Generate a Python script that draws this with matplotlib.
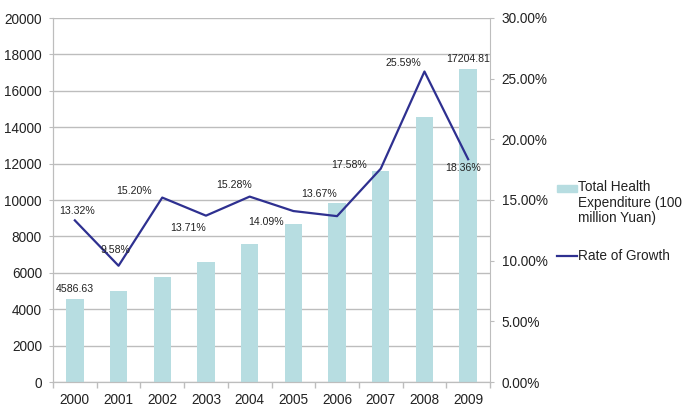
import matplotlib
matplotlib.use("Agg")
import matplotlib.pyplot as plt
from matplotlib.patches import Rectangle
from matplotlib.lines import Line2D
from matplotlib.ticker import FuncFormatter, FixedLocator

plt.rcParams['font.family'] = ['Liberation Sans', 'DejaVu Sans']

years = ["2000", "2001", "2002", "2003", "2004", "2005", "2006", "2007", "2008", "2009"]
expenditure = [4586.63, 5025.93, 5790.03, 6584.10, 7590.29, 8659.91, 9843.34, 11573.97, 14535.40, 17204.81]
growth = [13.32, 9.58, 15.20, 13.71, 15.28, 14.09, 13.67, 17.58, 25.59, 18.36]
bar_label_idx = [0, 9]
# label offsets (points) for growth labels
growth_offsets = [(1.5, 7), (-2, 11), (-20, 4.5), (-13, -9), (-11, 8), (-20, -8), (-13, 16), (-23, 3), (-15, 6), (-4, -6)]

bar_color = "#b7dde1"
line_color = "#2e3090"
grid_color = "#bdbdbd"

fig = plt.figure(figsize=(6.85, 4.08), dpi=100)
ax = fig.add_axes([53/685, 1-382/408, (490-53)/685, (382-18)/408])
ax2 = ax.twinx()

x = list(range(len(years)))
ax.bar(x, expenditure, width=0.4, color=bar_color, zorder=2)
ax.set_xlim(-0.5, len(years) - 0.5)
ax.set_ylim(0, 20000)
ax.set_yticks(range(0, 20001, 2000))
ax.yaxis.grid(True, color=grid_color, linewidth=1.0, zorder=0)
ax.set_axisbelow(True)

ax.set_xticks(x)
ax.set_xticklabels(years, fontsize=9.8, color="#222222")
ax.xaxis.set_minor_locator(FixedLocator([i - 0.5 for i in range(len(years) + 1)]))
ax.tick_params(axis='x', which='major', length=0, pad=8)
ax.tick_params(axis='x', which='minor', length=4, color=grid_color, width=1)
ax.tick_params(axis='y', length=3, color=grid_color, pad=5, labelsize=9.8, labelcolor="#222222")

for s in ['top']:
    ax.spines[s].set_visible(False)
    ax2.spines[s].set_visible(False)
for s in ['left', 'bottom', 'right']:
    ax.spines[s].set_color(grid_color)
    ax2.spines[s].set_color(grid_color)
ax.spines['right'].set_visible(False)

ax2.plot(x, [g / 100 for g in growth], color=line_color, linewidth=1.6, zorder=3)
ax2.set_ylim(0, 0.30)
ax2.set_yticks([i * 0.05 for i in range(7)])
ax2.yaxis.set_major_formatter(FuncFormatter(lambda v, p: f"{v*100:.2f}%"))
ax2.tick_params(axis='y', length=3, color=grid_color, pad=5.5, labelsize=9.8, labelcolor="#222222")

for i, g in enumerate(growth):
    dx, dy = growth_offsets[i]
    ax2.annotate(f"{g:.2f}%", (i, g / 100), xytext=(dx, dy), textcoords='offset points',
                 ha='center', va='center', fontsize=7.6, color="#222222")

for i in bar_label_idx:
    ax.annotate(f"{expenditure[i]:.2f}", (i, expenditure[i]), xytext=(0, 7), textcoords='offset points',
                ha='center', va='center', fontsize=7.6, color="#222222")

# legend (manual, in figure pixel coords)
W, H = 685, 408
fig.add_artist(Rectangle((557/W, 1-192/H), 20/W, 7/H, transform=fig.transFigure, color=bar_color))
fig.text(578/W, 1-180/H, "Total Health\nExpenditure (100\nmillion Yuan)", fontsize=9.8,
         va='top', ha='left', color="#222222", linespacing=1.15, transform=fig.transFigure)
fig.add_artist(Line2D([557/W, 577/W], [1-256/H, 1-256/H], transform=fig.transFigure,
                      color=line_color, linewidth=1.6))
fig.text(578/W, 1-256/H, "Rate of Growth", fontsize=9.8, va='center', ha='left',
         color="#222222", transform=fig.transFigure)

fig.savefig("out.png", dpi=100)
